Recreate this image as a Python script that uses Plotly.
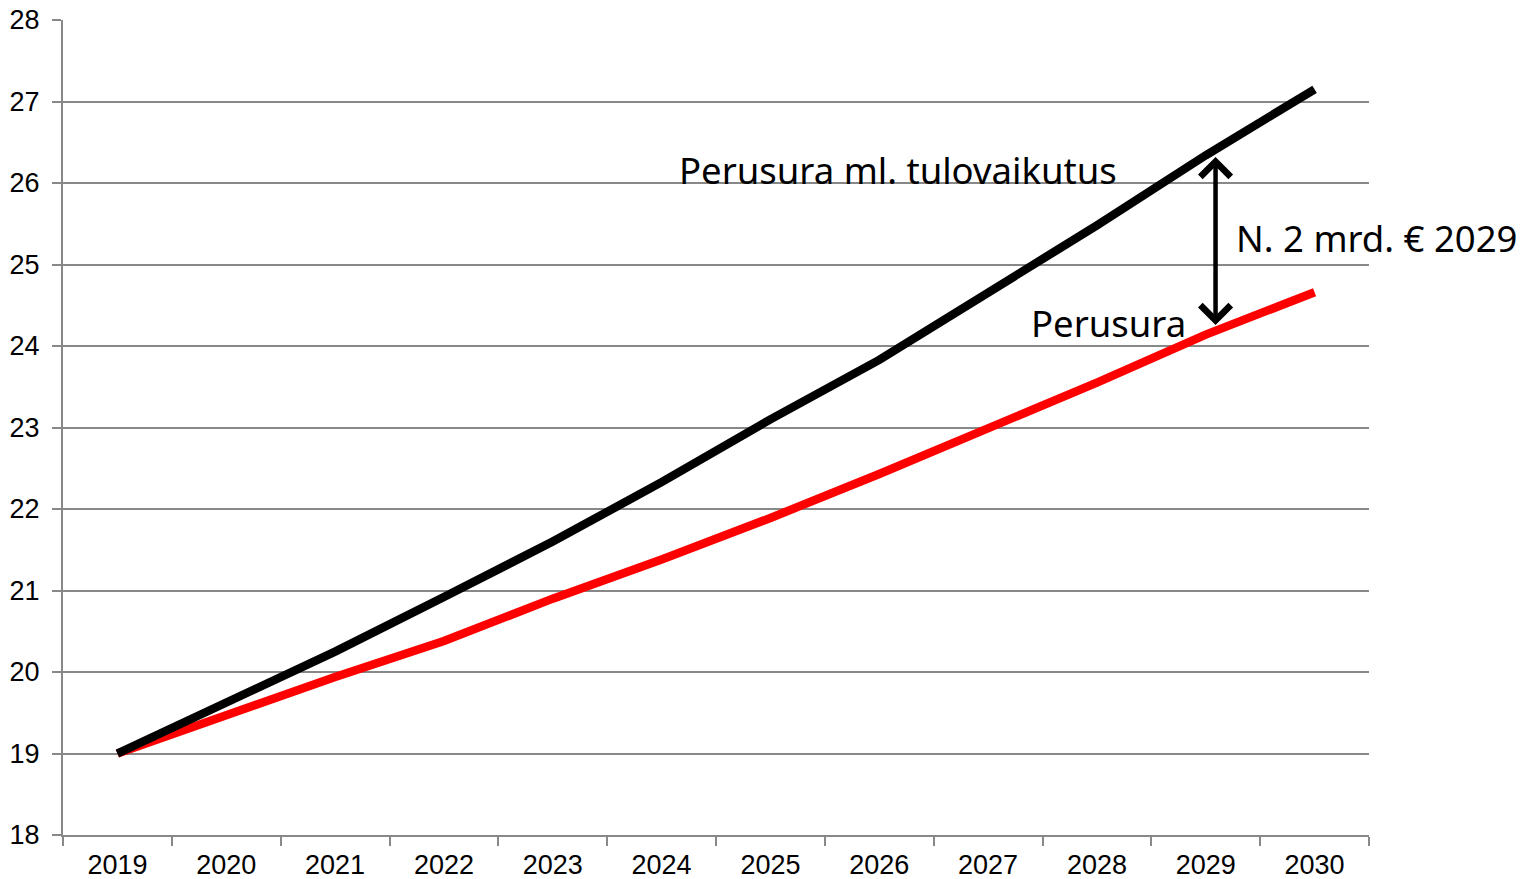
import plotly.graph_objects as go

years = ["2019", "2020", "2021", "2022", "2023", "2024", "2025", "2026", "2027", "2028", "2029", "2030"]
perusura_tulo = [19.0, 19.62, 20.25, 20.92, 21.60, 22.33, 23.10, 23.83, 24.65, 25.48, 26.34, 27.15]
perusura = [19.0, 19.47, 19.94, 20.38, 20.90, 21.38, 21.89, 22.43, 22.98, 23.55, 24.14, 24.66]
y_ticks = [18, 19, 20, 21, 22, 23, 24, 25, 26, 27, 28]

fig = go.Figure()
fig.add_trace(go.Scatter(x=years, y=perusura, mode="lines",
                         line=dict(color="#ff0000", width=8.5), name="Perusura"))
fig.add_trace(go.Scatter(x=years, y=perusura_tulo, mode="lines",
                         line=dict(color="#000000", width=8.5), name="Perusura ml. tulovaikutus"))

ann_font = dict(family="Noto Sans", size=36.5, color="#000000")
fig.add_annotation(x=7.17, y=26.16, xref="x", yref="y", text="Perusura ml. tulovaikutus",
                   showarrow=False, font=ann_font, xanchor="center", yanchor="middle")
fig.add_annotation(x=10.26, y=25.33, xref="x", yref="y", text="N. 2 mrd. € 2029",
                   showarrow=False, font=ann_font, xanchor="left", yanchor="middle")
fig.add_annotation(x=9.11, y=24.28, xref="x", yref="y", text="Perusura",
                   showarrow=False, font=ann_font, xanchor="center", yanchor="middle")
# double-headed arrow
fig.add_annotation(x=10.09, y=26.32, ax=10.09, ay=24.24, xref="x", yref="y", axref="x", ayref="y",
                   text="", showarrow=True, arrowhead=4, arrowside="end+start", arrowwidth=4.5,
                   arrowsize=1.3, arrowcolor="#000000")

axis_font = dict(family="Liberation Sans, Arial", size=27, color="#000000")
fig.update_xaxes(type="category", range=[-0.5, 11.5], showgrid=False, showline=True,
                 linecolor="#888888", linewidth=2, ticks="outside", tickson="boundaries",
                 ticklen=9, tickcolor="#888888", tickwidth=2, tickfont=axis_font,
                 automargin=False, ticklabelstandoff=5, ticklabeloverflow="allow")
fig.update_yaxes(range=[18, 28], tickvals=y_ticks, showgrid=True, gridcolor="#888888", gridwidth=2,
                 showline=True, linecolor="#888888", linewidth=2, ticks="outside", ticklen=9,
                 tickcolor="#888888", tickwidth=2, tickfont=axis_font, zeroline=False,
                 automargin=False, ticklabelstandoff=7, ticklabeloverflow="allow")
fig.update_layout(width=1530, height=879, margin=dict(l=63, r=161, t=20, b=44),
                  plot_bgcolor="white", paper_bgcolor="white", showlegend=False)
fig.write_html("out.html", post_script="document.body.style.margin='0';",
               config={"displayModeBar": False})
